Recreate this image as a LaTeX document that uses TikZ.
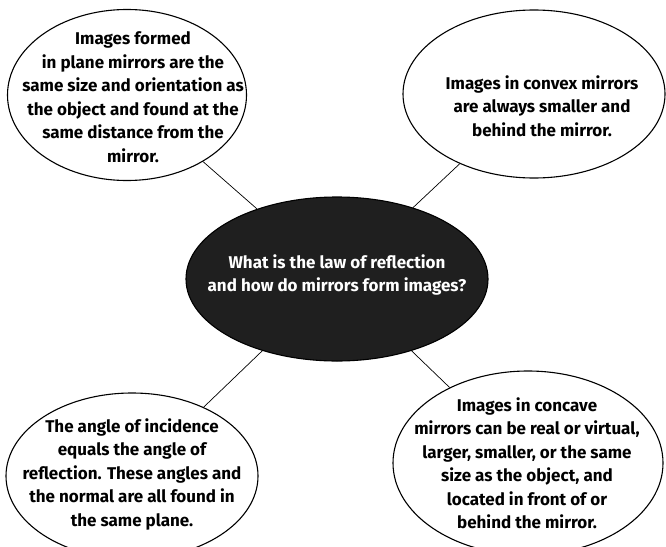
\documentclass[tikz,border=0pt]{standalone}
\usepackage{fontspec}
\setmainfont{Fira Sans}
\usetikzlibrary{shapes.geometric}
\begin{document}
\begin{tikzpicture}[x=1pt, y=-1pt,
        bubble/.style={ellipse, draw, line width=1.1pt, inner sep=0pt},
        words/.style={align=center, inner sep=0pt, font=\bfseries\fontsize{17}{23.5}\selectfont}]
    \useasboundingbox (0,0) rectangle (666,546);
    \clip (0,0) rectangle (666,546);
    % the question in the middle
    \node[bubble, fill=black!88, minimum width=302pt, minimum height=164pt] (law) at (337,279) {};
    \node[words, text=white] (lawtxt) at (337,275) {What is the law of reflection\\ and how do mirrors form images?};
    % the four answers
    \node[bubble, minimum width=239pt, minimum height=171pt] (plane) at (127,95) {};
    \node[bubble, minimum width=262pt, minimum height=168pt] (convex) at (534,94) {};
    \node[bubble, minimum width=252pt, minimum height=166pt] (incidence) at (132,476) {};
    \node[bubble, minimum width=270pt, minimum height=184pt] (concave) at (528,463) {};
    \node[words] (planetxt) at (133,97) {Images formed\\ in plane mirrors are the\\ same size and orientation as\\ the object and found at the\\ same distance from the\\ mirror.};
    \node[words] (convextxt) at (542,106) {Images in convex mirrors\\ are always smaller and\\ behind the mirror.};
    \node[words] (incidencetxt) at (132,474) {The angle of incidence\\ equals the angle of\\ reflection. These angles and\\ the normal are all found in\\ the same plane.};
    \node[words] (concavetxt) at (527,463) {Images in concave\\ mirrors can be real or virtual,\\ larger, smaller, or the same\\ size as the object, and\\ located in front of or\\ behind the mirror.};
    \foreach \n in {plane,convex,incidence,concave}
    {
        \draw[line width=.7pt] (law) -- (\n);
    }
\end{tikzpicture}
\end{document}
